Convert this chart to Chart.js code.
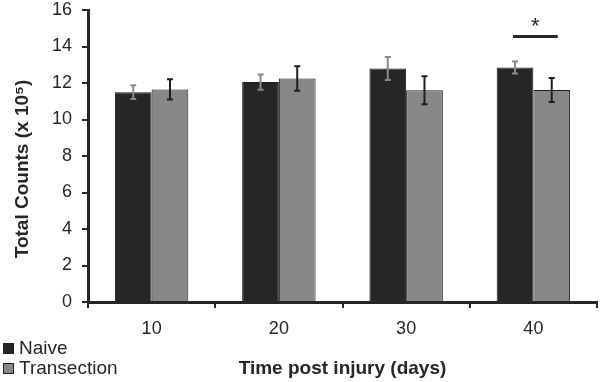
<!DOCTYPE html>
<html>
<head>
<meta charset="utf-8">
<script src="https://cdn.jsdelivr.net/npm/chart.js@4/dist/chart.umd.min.js"></script>
<style>
  html, body { margin: 0; padding: 0; background: #fff; }
  #wrap { position: relative; width: 600px; height: 382px; }
  canvas { display: block; }
  .legend { position: absolute; left: 3px; font-family: "Liberation Sans", Arial, sans-serif; font-size: 19px; color: #262626; line-height: 20px; }
  .legend .item { display: flex; align-items: center; }
  .legend .sw { width: 9px; height: 9px; border: 1px solid #222; margin-right: 5px; box-sizing: content-box; }
</style>
</head>
<body>
<div id="wrap">
  <canvas id="c" width="600" height="382"></canvas>
  <div class="legend" style="top:338px;">
    <div class="item"><span class="sw" style="background:#262626"></span>Naive</div>
    <div class="item"><span class="sw" style="background:#878787"></span>Transection</div>
  </div>
</div>
<script>
const categories = ['10', '20', '30', '40'];
const naive = [11.5, 12.05, 12.8, 12.85];
const naiveErr = [0.38, 0.42, 0.63, 0.33];
const transection = [11.65, 12.25, 11.6, 11.62];
const transectionErr = [0.56, 0.67, 0.77, 0.66];
const yMin = 0, yMax = 16, yStep = 2;
const sigIndex = 3;      // category with significance marker
const sigLevel = 14.55;  // value where the bracket line sits
const yTitle = 'Total Counts (x 10\u2075)';
const xTitle = 'Time post injury (days)';

const FONT = '"Liberation Sans", Arial, sans-serif';
const DARK = '#262626';

const errorBars = {
  id: 'errorBars',
  afterDatasetsDraw(chart) {
    const ctx = chart.ctx;
    const y = chart.scales.y;
    const errs = [naiveErr, transectionErr];
    const colors = ['#8a8a8a', '#1e1e1e'];
    ctx.save();
    errs.forEach((arr, di) => {
      const meta = chart.getDatasetMeta(di);
      const vals = chart.data.datasets[di].data;
      meta.data.forEach((bar, i) => {
        const top = y.getPixelForValue(vals[i] + arr[i]);
        const bot = y.getPixelForValue(vals[i] - arr[i]);
        ctx.strokeStyle = colors[di];
        ctx.lineWidth = 2;
        ctx.beginPath();
        ctx.moveTo(bar.x, top); ctx.lineTo(bar.x, bot);
        ctx.moveTo(bar.x - 3, top); ctx.lineTo(bar.x + 3, top);
        ctx.moveTo(bar.x - 3, bot); ctx.lineTo(bar.x + 3, bot);
        ctx.stroke();
      });
    });
    // significance marker
    const b0 = chart.getDatasetMeta(0).data[sigIndex];
    const b1 = chart.getDatasetMeta(1).data[sigIndex];
    const ly = y.getPixelForValue(sigLevel);
    ctx.strokeStyle = DARK;
    ctx.lineWidth = 3;
    ctx.beginPath();
    ctx.moveTo(b0.x - 2, ly); ctx.lineTo(b1.x + 6, ly);
    ctx.stroke();
    ctx.fillStyle = DARK;
    ctx.font = '22px ' + FONT;
    ctx.textAlign = 'center';
    ctx.textBaseline = 'alphabetic';
    ctx.fillText('*', (b0.x - 2 + b1.x + 6) / 2, ly - 3);
    // y axis title
    const area = chart.chartArea;
    ctx.save();
    ctx.translate(23, (area.top + area.bottom) / 2 + 13);
    ctx.rotate(-Math.PI / 2);
    ctx.font = 'bold 19px ' + FONT;
    ctx.fillStyle = DARK;
    ctx.textAlign = 'center';
    ctx.textBaseline = 'middle';
    ctx.fillText(yTitle, 0, 0);
    ctx.restore();
    ctx.restore();
  }
};

new Chart(document.getElementById('c'), {
  type: 'bar',
  data: {
    labels: categories,
    datasets: [
      { label: 'Naive', data: naive, backgroundColor: '#262626', borderColor: '#1e1e1e', borderWidth: 1 },
      { label: 'Transection', data: transection, backgroundColor: '#878787', borderColor: '#1e1e1e', borderWidth: 1 }
    ]
  },
  options: {
    responsive: false,
    animation: false,
    devicePixelRatio: 1,
    layout: { padding: { left: 0, right: 3, top: 10, bottom: 0 } },
    datasets: { bar: { barPercentage: 1.0, categoryPercentage: 0.577 } },
    plugins: { legend: { display: false }, tooltip: { enabled: false } },
    scales: {
      x: {
        grid: { display: true, drawOnChartArea: false, drawTicks: true, tickLength: 6, color: DARK, lineWidth: 2, offset: true },
        border: { display: true, color: DARK, width: 3 },
        ticks: { color: DARK, font: { family: FONT, size: 18 }, padding: 10 },
        title: { display: true, text: xTitle, color: DARK, font: { family: FONT, size: 19, weight: 'bold' }, padding: { top: 2, bottom: 2 } },
        afterFit(scale) { scale.height = 80; scale.paddingLeft = 0; scale.paddingRight = 0; }
      },
      y: {
        min: yMin, max: yMax,
        grid: { display: true, drawOnChartArea: false, drawTicks: true, tickLength: 6, color: DARK, lineWidth: 2 },
        border: { display: true, color: DARK, width: 3 },
        ticks: { stepSize: yStep, color: DARK, font: { family: FONT, size: 18 }, padding: 10 },
        title: { display: false },
        afterFit(scale) { scale.width = 88; scale.paddingTop = 0; scale.paddingBottom = 0; }
      }
    }
  },
  plugins: [errorBars]
});
</script>
</body>
</html>
